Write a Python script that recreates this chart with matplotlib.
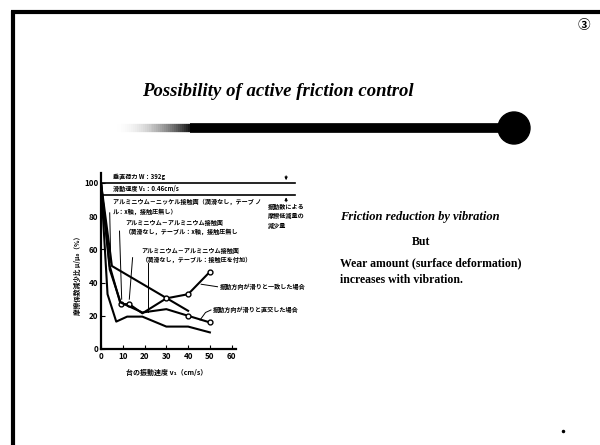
import numpy as np
import matplotlib.pyplot as plt
from matplotlib.patches import Circle

plt.rcParams['font.family'] = ['Noto Sans CJK JP', 'DejaVu Sans']

# friction-ratio curves (x: cm/s, y: %)
ax_a = [0, 5, 40]
ay_a = [100, 50, 23]
ax_b = [0, 4, 9, 13, 19, 30, 40, 50]
ay_b = [100, 50, 27, 27, 21.5, 30.5, 33, 46.5]
ax_c = [0, 4, 9, 19, 30, 40, 50]
ay_c = [100, 48, 28, 22, 24, 20, 16]
ax_d = [0, 3, 7, 12, 19, 30, 40, 50]
ay_d = [100, 33, 16.5, 19.5, 19.5, 13.5, 13.5, 10]
ref_lines = [100, 93]
xticks = [0, 10, 20, 30, 40, 50, 60]
yticks = [0, 20, 40, 60, 80, 100]

title = 'Possibility of active friction control'
side_text = ['Friction reduction by vibration', 'But',
             'Wear amount (surface deformation)', 'increases with vibration.']

W, H = 600, 445
fig = plt.figure(figsize=(6, 4.45), dpi=100)

# page layer in pixel coords
bg = fig.add_axes([0, 0, 1, 1])
bg.set_xlim(0, W)
bg.set_ylim(H, 0)
bg.axis('off')
bg.plot([13, 13], [445, 11], color='k', lw=3, solid_capstyle='butt')
bg.plot([11, 600], [12, 12], color='k', lw=3, solid_capstyle='butt')
bg.text(584, 25, '③', fontsize=9, fontweight='bold', ha='center', va='center')
bg.plot([563], [431], 'k.', ms=3)

bg.text(278, 91, title, family='Liberation Serif', fontsize=13.5,
        fontweight='bold', style='italic', ha='center', va='center')

# fading bar with ball
xs = np.linspace(113, 190, 40)
for i in range(len(xs) - 1):
    bg.plot(xs[i:i + 2], [128, 128], color='k', lw=6,
            alpha=(i / len(xs)) ** 2, solid_capstyle='butt')
bg.plot([190, 505], [128, 128], color='k', lw=7, solid_capstyle='butt')
bg.add_patch(Circle((514, 128), 16, color='k'))

bg.text(340, 217, side_text[0], family='Liberation Serif', fontsize=9,
        fontweight='bold', style='italic', va='center')
bg.text(421, 242, side_text[1], family='Liberation Serif', fontsize=8.5,
        fontweight='bold', ha='center', va='center')
bg.text(340, 263, side_text[2], family='Liberation Serif', fontsize=8.5,
        fontweight='bold', va='center')
bg.text(340, 280, side_text[3], family='Liberation Serif', fontsize=8.5,
        fontweight='bold', va='center')

# chart
ax = fig.add_axes([101 / W, (H - 349) / H, 196 / W, 176 / H])
ax.set_xlim(0, 90)
ax.set_ylim(0, 106)
for s in ['top', 'right']:
    ax.spines[s].set_visible(False)
ax.spines['bottom'].set_bounds(0, 62)
ax.spines['left'].set_linewidth(1.6)
ax.spines['bottom'].set_linewidth(1.6)
ax.set_xticks(xticks)
ax.set_yticks(yticks)
ax.tick_params(direction='in', length=3, labelsize=5.8, pad=2)
for lab in ax.get_xticklabels() + ax.get_yticklabels():
    lab.set_fontweight('bold')

lw = 1.5
for y in ref_lines:
    ax.plot([0, 89], [y, y], color='k', lw=1.2)
ax.plot(ax_a, ay_a, color='k', lw=lw)
ax.plot(ax_b, ay_b, color='k', lw=lw, marker='o', mfc='white', ms=3.5,
        markevery=[2, 3, 5, 6, 7])
ax.plot(ax_c, ay_c, color='k', lw=lw, marker='o', mfc='white', ms=3.5,
        markevery=[5, 6])
ax.plot(ax_d, ay_d, color='k', lw=lw)

fs = 4.4
kw = dict(fontsize=fs, fontweight='bold', va='center')
ax.text(5.5, 104, '垂直荷力 W：392g', **kw)
ax.text(5.5, 96.6, '滑動速度 V₁：0.46cm/s', **kw)
ax.text(5.5, 88.7, 'アルミニウム－ニッケル接触面（潤滑なし，テーブ ノ', **kw)
ax.text(5.5, 83, 'ル：x軸，接触圧無し）', **kw)
ax.text(11, 76, 'アルミニウム－アルミニウム接触面', **kw)
ax.text(11, 70.5, '（潤滑なし，テーブル：x軸，接触圧無し', **kw)
ax.text(18.7, 59.6, 'アルミニウム－アルミニウム接触面', **kw)
ax.text(18.7, 54, '（潤滑なし，テーブル：接触圧を付加）', **kw)
ax.text(54.5, 37.5, '振動方向が滑りと一致した場合', **kw)
ax.text(51.5, 23.5, '振動方向が滑りと直交した場合', **kw)
ax.text(76.5, 88, '振動数による\n摩擦低減量の\n減少量', fontsize=fs,
        fontweight='bold', va='top', linespacing=1.4)

# leader lines
ax.plot([4, 4.5], [82, 52], color='k', lw=0.7)
ax.plot([8.5, 9.5], [71, 30], color='k', lw=0.7)
ax.plot([14.5, 13], [55, 30], color='k', lw=0.7)
ax.plot([21.5, 21.5], [52, 22], color='k', lw=0.7)
ax.plot([46, 53.5], [39, 37.5], color='k', lw=0.7)
ax.plot([45.5, 48, 50.5], [17.5, 22, 23.5], color='k', lw=0.7)

# dimension arrows
ax.annotate('', xy=(85, 100), xytext=(85, 106),
            arrowprops=dict(arrowstyle='-|>', color='k', lw=0.7,
                            mutation_scale=4))
ax.annotate('', xy=(85, 93), xytext=(85, 87),
            arrowprops=dict(arrowstyle='-|>', color='k', lw=0.7,
                            mutation_scale=4))

ax.text(30, -14, '台の振動速度 v₁（cm/s）', fontsize=5, fontweight='bold',
        ha='center', va='center')
ax.text(-11, 45, '摩擦係数減少比 μ/μ₀（%）', fontsize=4.8, fontweight='bold',
        rotation=90, ha='center', va='center')

fig.savefig('out.png', dpi=100)
